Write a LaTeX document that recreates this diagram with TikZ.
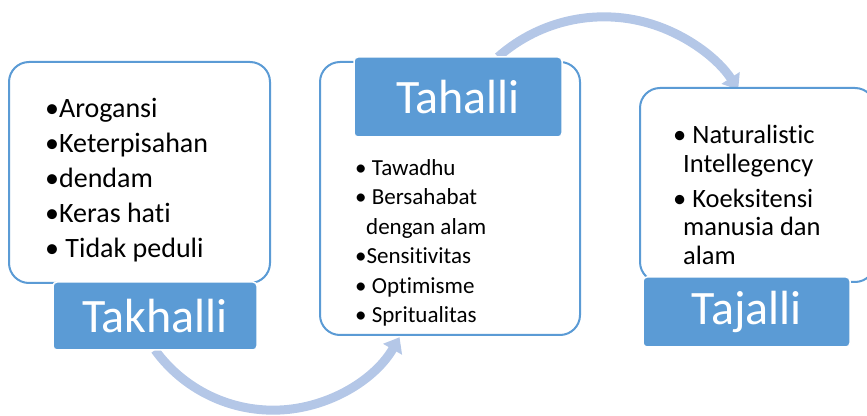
\documentclass[tikz,border=0pt]{standalone}
\usepackage{fontspec}
\setmainfont{Carlito}[Ligatures=NoCommon]
\usetikzlibrary{positioning,arrows.meta,backgrounds}
\definecolor{boxblue}{RGB}{91,155,213}
\definecolor{arcblue}{RGB}{180,199,231}

\begin{document}
\begin{tikzpicture}[x=1pt,y=1pt,
  listbox/.style={draw=boxblue,line width=2pt,fill=white,rounded corners=20pt,inner sep=0pt,outer sep=0pt},
  titlebox/.style={fill=boxblue,draw=white,line width=1.5pt,rounded corners=4pt,text=white,
    font=\fontsize{48}{58}\selectfont,inner sep=0pt,outer sep=0pt},
  items/.style={align=left,inner sep=0pt,anchor=north west},
  flow/.style={arcblue,line width=9pt,-{Triangle[width=21pt,length=14pt]}}]
  \useasboundingbox (0,0) rectangle (867,415);
  \clip (0,0) rectangle (867,415);

  \node[listbox,minimum width=261pt,minimum height=221pt] (box1) at (139.5,242.5) {};
  \node[titlebox,minimum width=204pt,minimum height=68pt] (title1) [below=-1pt of box1,xshift=15.5pt] {Takhalli};
  \node[items,font=\fontsize{28}{35}\selectfont] (list1) [below right=36pt and 36pt of box1.north west]
    {•Arogansi\\•Keterpisahan\\•dendam\\•Keras hati\\• Tidak peduli};

  \node[listbox,minimum width=260pt,minimum height=273pt] (box2) at (450,216.5) {};
  \node[titlebox,minimum width=208pt,minimum height=80pt] (title2) [below=-5pt of box2.north,xshift=8pt] {Tahalli};
  \node[items,font=\fontsize{23}{29.5}\selectfont] (list2) [below right=97pt and 35pt of box2.north west]
    {• Tawadhu\\• Bersahabat\\\hspace*{11pt}dengan alam\\•Sensitivitas\\• Optimisme\\• Spritualitas};

  \node[listbox,minimum width=235pt,minimum height=194pt] (box3) at (757.5,230) {};
  \node[titlebox,minimum width=207pt,minimum height=70pt] (title3) [below=-5pt of box3,xshift=-11pt] {Tajalli};
  \node[items,font=\fontsize{26.5}{28.5}\selectfont] (list3) [below right=37pt and 33pt of box3.north west]
    {• Naturalistic\\\hspace*{10pt}Intellegency\\[6.5pt]• Koeksitensi\\\hspace*{10pt}manusia dan\\\hspace*{10pt}alam};

  \coordinate (start2) at ([xshift=40pt]title2.north);
  \begin{scope}[on background layer]
    \draw[flow] (title1.south) arc[start angle=216,end angle=330,radius=146];
    \draw[flow] (start2) arc[start angle=131.5,end angle=33,radius=160];
  \end{scope}
\end{tikzpicture}
\end{document}
